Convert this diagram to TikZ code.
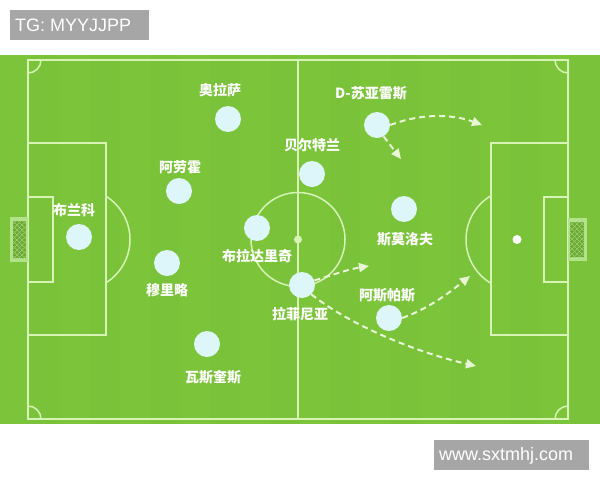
\documentclass[tikz,border=0pt]{standalone}
\usepackage{fontspec}
\setmainfont{Liberation Sans}
\newfontfamily\cjk{Noto Sans CJK SC}
\usetikzlibrary{arrows.meta}
\definecolor{field}{HTML}{7CC53B}
\definecolor{stripe}{HTML}{79C239}
\definecolor{linec}{HTML}{D8F3B6}
\definecolor{pfill}{HTML}{DDF6FA}
\definecolor{gframe}{HTML}{B2E38A}
\definecolor{gnet}{HTML}{6AA832}
\definecolor{tagbg}{HTML}{A6A6A6}
\definecolor{runc}{HTML}{E8F6D6}
\tikzset{
  pline/.style={draw=linec, line width=1.5pt},
  player/.style={circle, fill=pfill, minimum size=26pt, inner sep=0pt},
  lab/.style={text=white, font=\cjk\bfseries\fontsize{14}{14}\selectfont, inner sep=0pt},
  run/.style={draw=runc, line width=2pt, dash pattern=on 6pt off 4pt, -{Triangle[length=10pt,width=9pt]}},
  tag/.style={text=white, font=\fontsize{18}{18}\selectfont, inner sep=0pt, anchor=west}
}
\begin{document}
\begin{tikzpicture}[x=1pt,y=-1pt]
\useasboundingbox (0,0) rectangle (600,480);
\fill[white] (0,0) rectangle (600,480);
\fill[field] (0,55) rectangle (600,424);
\foreach \i in {0,...,9} \fill[stripe] (\i*60+30,55) rectangle +(30,369);
% pitch markings
\draw[pline] (28,60) rectangle (568,419);
\draw[pline] (298,60) -- (298,419);
\draw[pline] (298,239.5) circle[radius=47];
\fill[linec] (298,239.5) circle[radius=4];
\draw[pline] (28,143) rectangle (106,335);
\draw[pline] (491,143) rectangle (568,335);
\draw[pline] (28,197) rectangle (53,282);
\draw[pline] (544,197) rectangle (568,282);
\fill[white!90!pfill] (517,239.5) circle[radius=4.5];
\begin{scope}
  \clip (106,0) rectangle (300,480);
  \draw[pline] (79,239.5) circle[radius=51];
\end{scope}
\begin{scope}
  \clip (300,0) rectangle (491,480);
  \draw[pline] (517,239.5) circle[radius=51];
\end{scope}
\begin{scope}
  \clip (28,60) rectangle (568,419);
  \draw[pline] (28,60) circle[radius=13];
  \draw[pline] (568,60) circle[radius=13];
  \draw[pline] (28,419) circle[radius=13];
  \draw[pline] (568,419) circle[radius=13];
\end{scope}
% goals
\fill[gframe] (10,217) rectangle (28,262);
\fill[gnet] (13,221) rectangle (26,258);
\begin{scope}
  \clip (13,221) rectangle (26,258);
  \foreach \k in {-40,-35,...,60} {
    \draw[gframe!70!gnet, line width=0.6pt] (13,221+\k) -- (26,234+\k);
    \draw[gframe!70!gnet, line width=0.6pt] (13,234+\k) -- (26,221+\k);
  }
\end{scope}
\fill[gframe] (568,218) rectangle (587,261);
\fill[gnet] (570,222) rectangle (584,257);
\begin{scope}
  \clip (570,222) rectangle (584,257);
  \foreach \k in {-40,-35,...,60} {
    \draw[gframe!70!gnet, line width=0.6pt] (570,222+\k) -- (584,236+\k);
    \draw[gframe!70!gnet, line width=0.6pt] (570,236+\k) -- (584,222+\k);
  }
\end{scope}
% players
\node[player] (osa) at (228,119) {};
\node[player] (ara) at (179,191) {};
\node[player] (bel) at (312,174) {};
\node[player] (sua) at (377,125) {};
\node[player] (smo) at (404,209) {};
\node[player] (bla) at (79,237) {};
\node[player] (mur) at (167,263) {};
\node[player] (brd) at (257,228) {};
\node[player] (raf) at (302,285) {};
\node[player] (asp) at (389,318) {};
\node[player] (vas) at (207,344) {};
% labels
\node[lab] (tosa) at (220,90) {奥拉萨};
\node[lab] (tara) at (180,167) {阿劳霍};
\node[lab] (tbel) at (312,145) {贝尔特兰};
\node[lab] (tsua) at (371,93) {D-苏亚雷斯};
\node[lab] (tsmo) at (405,239) {斯莫洛夫};
\node[lab] (tbla) at (74,210) {布兰科};
\node[lab] (tmur) at (167,290) {穆里略};
\node[lab] (tbrd) at (257,256) {布拉达里奇};
\node[lab] (traf) at (300,314) {拉菲尼亚};
\node[lab] (tasp) at (387,295) {阿斯帕斯};
\node[lab] (tvas) at (213,377) {瓦斯奎斯};
% runs
\coordinate (e1) at (482,125);
\coordinate (e2) at (401,159);
\coordinate (e3) at (369,266);
\coordinate (e4) at (470,276);
\coordinate (e5) at (476,366);
\draw[run] (sua.east) .. controls (425,112) and (455,115) .. (e1);
\draw[run] (sua.-60) -- (e2);
\draw[run] (raf.20) .. controls (335,274) and (350,269) .. (e3);
\draw[run] (asp.east) .. controls (430,308) and (450,292) .. (e4);
\draw[run] (raf.-45) .. controls (350,325) and (415,352) .. (e5);
% tags
\fill[tagbg] (10,10) rectangle (149,40);
\node[tag] (tg) at (15,25.5) {TG: MYYJJPP};
\fill[tagbg] (434,440) rectangle (589,470);
\node[tag] (web) at (439,455.5) {www.sxtmhj.com};
\end{tikzpicture}
\end{document}
